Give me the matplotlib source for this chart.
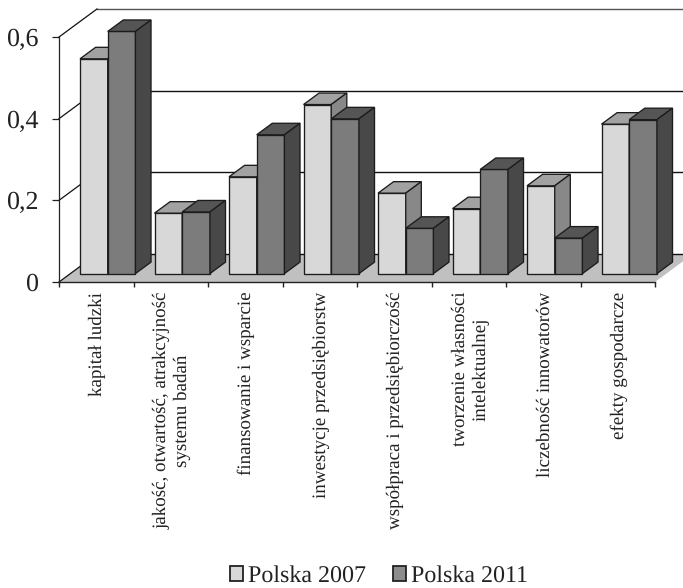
import matplotlib.pyplot as plt
from matplotlib.patches import Patch, Polygon
from matplotlib.transforms import ScaledTranslation

categories = [
    'kapitał ludzki',
    'jakość, otwartość, atrakcyjność\nsystemu badań',
    'finansowanie i wsparcie',
    'inwestycje przedsiębiorstw',
    'współpraca i przedsiębiorczość',
    'tworzenie własności\nintelektualnej',
    'liczebność innowatorów',
    'efekty gospodarcze',
]
polska_2007 = [0.526, 0.148, 0.237, 0.414, 0.197, 0.159, 0.215, 0.366]
polska_2011 = [0.593, 0.151, 0.340, 0.379, 0.111, 0.255, 0.087, 0.377]
y_ticks = [0, 0.2, 0.4, 0.6]
y_labels = ['0', '0,2', '0,4', '0,6']

W, H = 683, 588
LEFT, RIGHT, BOTTOM, TOP = 59, 655, 282, 37

# oblique projection: how far the back wall is shifted, in data units
DEPTH_X = 38 / 74.5
DEPTH_Y = 28 / 408
BAR_FRONT = 0.30
BAR_BACK = 0.71
BAR_START = 0.129
BAR_WIDTH = 0.372

LIGHT = ('#d8d8d8', '#a2a2a2', '#888888')
DARK = ('#7c7c7c', '#555555', '#484848')


def project(x, v, depth):
    return x + depth * DEPTH_X, v + depth * DEPTH_Y


def draw_box(ax, x0, value, colors, zorder):
    x1 = x0 + BAR_WIDTH
    front = [project(x0, 0, BAR_FRONT), project(x1, 0, BAR_FRONT),
             project(x1, value, BAR_FRONT), project(x0, value, BAR_FRONT)]
    top = [project(x0, value, BAR_FRONT), project(x1, value, BAR_FRONT),
           project(x1, value, BAR_BACK), project(x0, value, BAR_BACK)]
    side = [project(x1, 0, BAR_FRONT), project(x1, 0, BAR_BACK),
            project(x1, value, BAR_BACK), project(x1, value, BAR_FRONT)]
    for pts, color in zip((front, top, side), colors):
        ax.add_patch(Polygon(pts, closed=True, facecolor=color, edgecolor='#1c1c1c',
                             linewidth=0.95, joinstyle='miter', zorder=zorder, clip_on=False))


plt.rcParams['font.family'] = ['Liberation Serif', 'DejaVu Serif']
plt.rcParams['text.hinting'] = 'no_hinting'
plt.rcParams['text.hinting_factor'] = 1

fig = plt.figure(figsize=(W / 100, H / 100), dpi=100)
ax = fig.add_axes([LEFT / W, 1 - BOTTOM / H, (RIGHT - LEFT) / W, (BOTTOM - TOP) / H])
ax.set_xlim(0, len(categories))
ax.set_ylim(0, 0.6)
ax.patch.set_visible(False)
for name in ('top', 'right', 'bottom'):
    ax.spines[name].set_visible(False)
ax.spines['left'].set_linewidth(0.9)
ax.spines['left'].set_color('#222222')

n = len(categories)

# floor, running off the right edge of the figure
floor = [project(0, 0, 0), project(n, 0, 0), project(n, 0, 1), project(0, 0, 1)]
ax.add_patch(Polygon(floor, closed=True, facecolor='#c0c0c0',
                     edgecolor='none', zorder=1, clip_on=False))
ax.plot([0, n], [0, 0], color='#222222', lw=1.0, zorder=2, clip_on=False)

# gridlines on the back wall and the diagonals on the side wall
for v in y_ticks:
    xb, yb = project(0, v, 1)
    xe, ye = project(n, v, 1)
    color = '#555555' if v == 0.6 else '#111111'
    ax.plot([xb, xe], [yb, ye], color=color, lw=1.0, zorder=2, clip_on=False)
    ax.plot([0, xb], [v, yb], color='#111111', lw=0.9, zorder=2, clip_on=False)

for i in range(n):
    x0 = i + BAR_START
    draw_box(ax, x0, polska_2007[i], LIGHT, 3 + 2 * i)
    draw_box(ax, x0 + BAR_WIDTH, polska_2011[i], DARK, 4 + 2 * i)

ax.set_yticks(y_ticks)
ax.set_yticklabels(y_labels, fontsize=18.5, color='#222222')
ax.tick_params(axis='y', length=5, width=0.9, pad=10, color='#222222')

ax.set_xticks(range(n + 1))
ax.set_xticklabels([])
ax.tick_params(axis='x', which='major', length=3.5, width=1.0, color='#222222')
ax.set_xticks([i + 0.5 for i in range(n)], minor=True)
ax.set_xticklabels(categories, minor=True, rotation=90, fontsize=13.5,
                   color='#222222', linespacing=1.25, ha='center', va='top')
ax.tick_params(axis='x', which='minor', length=0, pad=7)

# nudge the category labels slightly right of the slot centres
nudge = ScaledTranslation(1.5 / 100, 0, fig.dpi_scale_trans)
for label in ax.get_xticklabels(minor=True):
    label.set_transform(label.get_transform() + nudge)

handles = [Patch(facecolor=LIGHT[0], edgecolor='#222222', linewidth=1.3),
           Patch(facecolor='#8c8c8c', edgecolor='#222222', linewidth=1.3)]
fig.legend(handles, ['Polska 2007', 'Polska 2011'], loc='center', ncol=2,
           bbox_to_anchor=(379 / W, 1 - 576 / H), frameon=False, fontsize=17,
           handlelength=0.55, handleheight=0.55, handletextpad=0.22, columnspacing=1.15,
           labelcolor='#222222', borderpad=0)

fig.savefig('out.png', dpi=100)
